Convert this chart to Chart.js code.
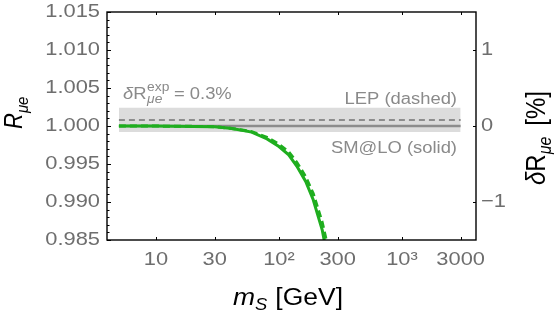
<!DOCTYPE html>
<html>
<head>
<meta charset="utf-8">
<script src="https://cdn.jsdelivr.net/npm/chart.js@4.4.1/dist/chart.umd.min.js"></script>
<style>
  html, body { margin: 0; padding: 0; background: #fff; }
  #wrap { width: 554px; height: 315px; }
</style>
</head>
<body>
<div id="wrap"><canvas id="chart" width="554" height="315"></canvas></div>
<script>
const massGrid = [5, 10, 20, 30, 40, 50, 60, 80, 100, 120, 140, 165, 190, 225, 260];
// R_mue, SM@LO (solid green)
const rSolid = [1.0, 0.99999, 0.99995, 0.9999, 0.9997, 0.99945, 0.9992, 0.9983, 0.9973, 0.9962, 0.9947, 0.9927, 0.9903, 0.9863, 0.9810];
// R_mue, LEP (dashed green)
const rDashed = [1.0, 0.99999, 0.99995, 0.9999, 0.9997, 0.99948, 0.99925, 0.9985, 0.9976, 0.9966, 0.9952, 0.9933, 0.9911, 0.9873, 0.9828];

// horizontal reference lines
const refMass = [5, 3000];
const smLevel = [1.0, 1.0];
const lepLevel = [1.0008, 1.0008];
const bandTop = [1.0024, 1.0024];
const bandBottom = [0.9992, 0.9992];

// tick labels
const xTicks = [10, 30, 100, 300, 1000, 3000];
const xTickLabels = ['10', '30', '10²', '300', '10³', '3000'];
const yTicks = [0.985, 0.99, 0.995, 1.0, 1.005, 1.01, 1.015];
const yTickLabels = ['0.985', '0.990', '0.995', '1.000', '1.005', '1.010', '1.015'];
const rightTicks = [-1, 0, 1];
const rightTickLabels = ['\u22121', '0', '1'];

const pts = (xs, ys) => xs.map((x, i) => ({ x: x, y: ys[i] }));

const FONT = '"Liberation Sans", Arial, sans-serif';
const GREEN = '#1fae1f';
const GRAY = '#8c8c8c';
const SX = 1.15; // the picture's text is a bit wide

// pieces are [text, font, dy, extra gap after]
function runWidth(ctx, parts) {
  let w = 0;
  parts.forEach(p => { ctx.font = p[1]; w += ctx.measureText(p[0]).width + (p[3] || 0); });
  return w;
}
function drawRun(ctx, parts, x, y, align, rotate) {
  ctx.save();
  ctx.translate(x, y);
  ctx.scale(SX, 1);
  if (rotate) ctx.rotate(-Math.PI / 2);
  let cx = 0;
  if (align === 'right') cx = -runWidth(ctx, parts);
  if (align === 'center') cx = -runWidth(ctx, parts) / 2;
  parts.forEach(p => {
    ctx.font = p[1];
    ctx.fillText(p[0], cx, p[2]);
    cx += ctx.measureText(p[0]).width + (p[3] || 0);
  });
  ctx.restore();
}

// frame, inward ticks, tick labels, axis titles and the text notes
const decorate = {
  id: 'decorate',
  afterDraw(chart) {
    const { ctx, chartArea: a, scales } = chart;
    ctx.save();
    ctx.strokeStyle = '#000';
    ctx.lineWidth = 1.4;
    ctx.strokeRect(a.left, a.top, a.right - a.left, a.bottom - a.top);

    ctx.lineWidth = 1;
    ctx.beginPath();
    for (let k = 0; k <= 30; k++) {
      const v = 0.985 + k * 0.001;
      const y = Math.round(scales.y.getPixelForValue(v)) + 0.5;
      const len = k % 5 === 0 ? 4 : 2.5;
      ctx.moveTo(a.left, y); ctx.lineTo(a.left + len, y);
    }
    xTicks.forEach(t => {
      const x = Math.round(scales.x.getPixelForValue(t)) + 0.5;
      ctx.moveTo(x, a.bottom); ctx.lineTo(x, a.bottom - 3);
      ctx.moveTo(x, a.top); ctx.lineTo(x, a.top + 3);
    });
    rightTicks.forEach(t => {
      const y = Math.round(scales.y2.getPixelForValue(t)) + 0.5;
      ctx.moveTo(a.right, y); ctx.lineTo(a.right - 3, y);
    });
    ctx.stroke();

    // tick labels
    const tickFont = '19px ' + FONT;
    ctx.fillStyle = '#6e6e6e';
    ctx.textBaseline = 'middle';
    yTicks.forEach((t, i) => {
      drawRun(ctx, [[yTickLabels[i], tickFont, 0]], a.left - 7, scales.y.getPixelForValue(t), 'right');
    });
    rightTicks.forEach((t, i) => {
      drawRun(ctx, [[rightTickLabels[i], tickFont, 0]], a.right + 5, scales.y2.getPixelForValue(t), 'left');
    });
    xTicks.forEach((t, i) => {
      drawRun(ctx, [[xTickLabels[i], tickFont, 0]], scales.x.getPixelForValue(t), 260, 'center');
    });

    // notes inside the plot
    ctx.textBaseline = 'alphabetic';
    ctx.fillStyle = '#8a8a8a';
    const n = 16, s = 12;
    ctx.font = s + 'px ' + FONT;
    const wExp = ctx.measureText('exp').width;
    ctx.font = 'italic ' + s + 'px ' + FONT;
    const wMu = ctx.measureText('μe').width;
    drawRun(ctx, [
      ['δ', 'italic ' + n + 'px ' + FONT, 0],
      ['R', n + 'px ' + FONT, 0, 0.5],
      ['exp', s + 'px ' + FONT, -8, -wExp],
      ['μe', 'italic ' + s + 'px ' + FONT, 4, Math.max(wExp - wMu, 0) + 4],
      ['= 0.3%', n + 'px ' + FONT, 0]
    ], 123, 99, 'left');
    drawRun(ctx, [['LEP (dashed)', '16px ' + FONT, 0]], 457, 104, 'right');
    drawRun(ctx, [['SM@LO (solid)', '16px ' + FONT, 0]], 457, 153, 'right');

    // axis titles
    ctx.fillStyle = '#000';
    drawRun(ctx, [
      ['m', 'italic 23px ' + FONT, 0],
      ['S', 'italic 16px ' + FONT, 5, 7],
      ['[GeV]', '23px ' + FONT, 0]
    ], 233, 305, 'left');
    drawRun(ctx, [
      ['R', 'italic 22px ' + FONT, 0],
      ['μe', 'italic 15px ' + FONT, 5]
    ], 22, 129, 'left', true);
    drawRun(ctx, [
      ['δ', 'italic 24px ' + FONT, 0],
      ['R', '24px ' + FONT, 0],
      ['μe', 'italic 16px ' + FONT, 5, 11],
      ['[%]', '24px ' + FONT, 0]
    ], 545, 185, 'left', true);

    ctx.restore();
  }
};

new Chart(document.getElementById('chart'), {
  type: 'line',
  data: {
    datasets: [
      { data: pts(massGrid, rSolid), borderColor: GREEN, borderWidth: 3, pointRadius: 0, tension: 0, yAxisID: 'y' },
      { data: pts(massGrid, rDashed), borderColor: GREEN, borderWidth: 3, borderDash: [7, 4], pointRadius: 0, tension: 0, yAxisID: 'y' },
      { data: pts(refMass, smLevel), borderColor: GRAY, borderWidth: 2.5, pointRadius: 0, yAxisID: 'y' },
      { data: pts(refMass, lepLevel), borderColor: GRAY, borderWidth: 2, borderDash: [6, 4], pointRadius: 0, yAxisID: 'y' },
      { data: pts(refMass, bandTop), borderWidth: 0, borderColor: 'rgba(0,0,0,0)', backgroundColor: '#dcdcdc', fill: '+1', pointRadius: 0, yAxisID: 'y' },
      { data: pts(refMass, bandBottom), borderWidth: 0, borderColor: 'rgba(0,0,0,0)', pointRadius: 0, fill: false, yAxisID: 'y' }
    ]
  },
  options: {
    responsive: false,
    animation: false,
    layout: { padding: { top: 12, left: 0, right: 0, bottom: 0 } },
    plugins: { legend: { display: false }, tooltip: { enabled: false } },
    scales: {
      x: {
        type: 'logarithmic',
        min: 4, max: 4000,
        afterBuildTicks: s => { s.ticks = xTicks.map(v => ({ value: v })); },
        afterFit: s => { s.height = 75; },
        grid: { display: false },
        border: { display: false },
        ticks: { display: false }
      },
      y: {
        position: 'left',
        min: 0.985, max: 1.015,
        afterBuildTicks: s => { s.ticks = yTicks.map(v => ({ value: v })); },
        afterFit: s => { s.width = 107; },
        grid: { display: false },
        border: { display: false },
        ticks: { display: false }
      },
      y2: {
        position: 'right',
        min: -1.5, max: 1.5,
        afterBuildTicks: s => { s.ticks = rightTicks.map(v => ({ value: v })); },
        afterFit: s => { s.width = 78; },
        grid: { display: false },
        border: { display: false },
        ticks: { display: false }
      }
    }
  },
  plugins: [decorate]
});
</script>
</body>
</html>
